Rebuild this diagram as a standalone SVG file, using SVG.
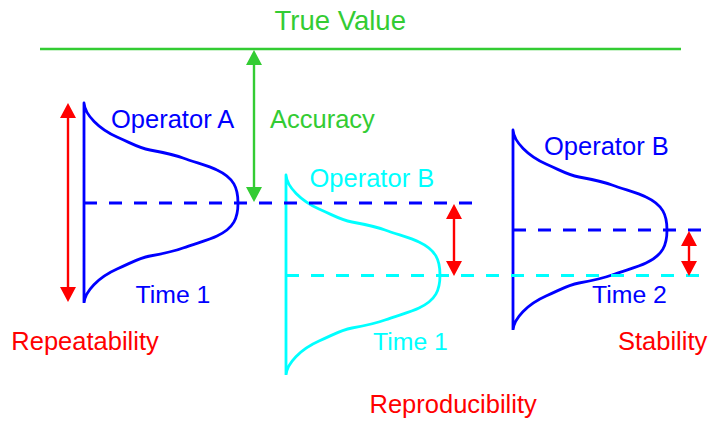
<svg xmlns="http://www.w3.org/2000/svg" width="709" height="421" viewBox="0 0 709 421">
<style>
  text { font-family: "Liberation Sans", Arial, sans-serif; font-size: 25.5px; }
  .blue { fill: #0000FF; }
  .cyan { fill: #00FFFF; }
  .red { fill: #FF0000; }
  .green { fill: #33CC33; }
  .time { font-size: 24.8px; }
  .curve { fill: none; stroke-width: 2.8; stroke-linejoin: round; }
  .dash { fill: none; stroke-width: 3; stroke-dasharray: 13 12; }
  .arr { fill: none; stroke-width: 2.4; }
</style>
<defs>
  <path id="bell" d="M0,100 L0,-100 C1,-88 15,-74 33,-66 C51,-58 55,-55 66,-53 C77,-51 88,-49 99,-45 C113,-40 125,-37 133,-33 C150,-25 154,-15 154,0 C154,15 150,25 133,33 C125,37 113,40 99,45 C88,49 77,51 66,53 C55,55 51,58 33,66 C15,74 1,88 0,100"/>
  <marker id="hr" viewBox="0 0 15 16" refX="1" refY="8" markerWidth="15" markerHeight="16" markerUnits="userSpaceOnUse" orient="auto-start-reverse">
    <path d="M0,0 L15,8 L0,16 Z" fill="#FF0000"/>
  </marker>
  <marker id="hg" viewBox="0 0 15 16" refX="1" refY="8" markerWidth="15" markerHeight="16" markerUnits="userSpaceOnUse" orient="auto-start-reverse">
    <path d="M0,0 L15,8 L0,16 Z" fill="#33CC33"/>
  </marker>
</defs>

<g id="true-value">
  <line x1="40" y1="49" x2="681" y2="49" stroke="#33CC33" stroke-width="2.5"/>
  <text x="274.5" y="30" class="green" style="font-size:27.5px">True Value</text>
</g>

<g id="operator-a-time1">
  <use href="#bell" transform="translate(84,203)" class="curve" stroke="#0000FF"/>
  <text x="111" y="127.5" class="blue">Operator A</text>
  <text x="135.5" y="302.5" class="blue time">Time 1</text>
</g>

<g id="operator-b-time1">
  <use href="#bell" transform="translate(286,275)" class="curve" stroke="#00FFFF"/>
  <text x="309.5" y="187" class="cyan">Operator B</text>
  <text x="373" y="350" class="cyan time">Time 1</text>
</g>

<g id="operator-b-time2">
  <use href="#bell" transform="translate(513,230)" class="curve" stroke="#0000FF"/>
  <text x="544" y="155" class="blue">Operator B</text>
  <text x="592" y="302.5" class="blue time">Time 2</text>
</g>

<g id="mean-lines">
  <line x1="84" y1="203" x2="472" y2="203" class="dash" stroke="#0000FF"/>
  <line x1="286" y1="275.5" x2="709" y2="275.5" class="dash" stroke="#00FFFF"/>
  <line x1="513" y1="230" x2="709" y2="230" class="dash" stroke="#0000FF"/>
</g>

<g id="connectors">
  <line x1="68" y1="117" x2="68" y2="288" class="arr" stroke="#FF0000" marker-start="url(#hr)" marker-end="url(#hr)"/>
  <line x1="254" y1="64" x2="254" y2="188" class="arr" stroke="#33CC33" marker-start="url(#hg)" marker-end="url(#hg)"/>
  <line x1="454" y1="218" x2="454" y2="262" class="arr" stroke="#FF0000" marker-start="url(#hr)" marker-end="url(#hr)"/>
  <line x1="689" y1="245" x2="689" y2="262" class="arr" stroke="#FF0000" marker-start="url(#hr)" marker-end="url(#hr)"/>
</g>

<g id="labels">
  <text x="270" y="127.5" class="green">Accuracy</text>
  <text x="11.3" y="350" class="red">Repeatability</text>
  <text x="369.5" y="412.7" class="red">Reproducibility</text>
  <text x="618" y="350" class="red">Stability</text>
</g>
</svg>
